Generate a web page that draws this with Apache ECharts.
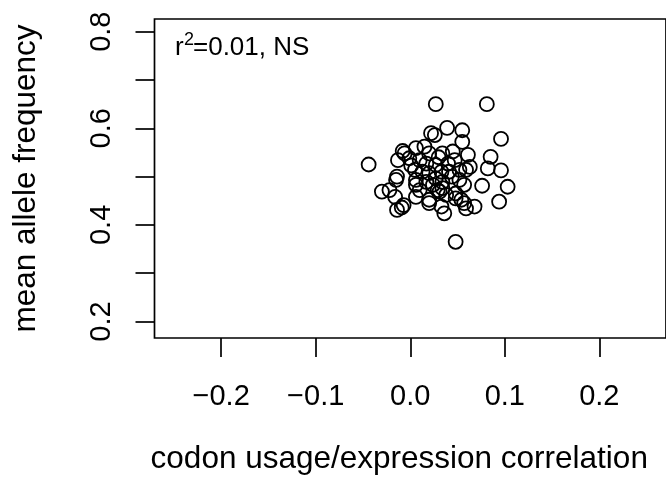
<!DOCTYPE html>
<html>
	<head>
		<meta charset="utf-8">
		<title>scatter</title>
	</head>
	<body style="margin:0">
		<div id="main" style="width: 666px;height:490px;"></div>
	</body>
	<script src="https://cdn.jsdelivr.net/npm/echarts@6/dist/echarts.min.js"></script>
	<script type="text/javascript">
		'use strict'

		// codon usage/expression correlation (x) vs mean allele frequency (y)
		var corr = [
			0.027, 0.081, 0.039, 0.055, 0.022, 0.026, 0.096, 0.055, -0.008, -0.044,
			0.061, 0.085, 0.082, 0.096, 0.076, 0.103, 0.094, -0.030, -0.015, -0.014,
			-0.016, -0.014, -0.009, -0.007, 0.048, 0.036, 0.068, 0.057, 0.054, 0.059,
			0.020, 0.006, 0.006, 0.031, 0.038, 0.048, -0.006, 0.006, 0.015, 0.020,
			0.034, 0.045, -0.013, -0.001, 0.010, 0.017, 0.027, 0.040, 0.047, 0.052,
			0.059, 0.005, 0.013, 0.020, 0.033, 0.041, -0.022, 0.006, 0.017, 0.027,
			0.034, 0.010, 0.024, 0.029, 0.034, 0.020, 0.033, 0.048, 0.052, 0.057,
			0.030, 0.001, 0.044, 0.063
		];
		var freq = [
			0.650, 0.650, 0.601, 0.596, 0.590, 0.586, 0.578, 0.572, 0.553, 0.525,
			0.545, 0.541, 0.517, 0.513, 0.481, 0.479, 0.448, 0.469, 0.493, 0.500,
			0.458, 0.431, 0.436, 0.441, 0.365, 0.424, 0.438, 0.445, 0.452, 0.434,
			0.445, 0.458, 0.483, 0.469, 0.462, 0.465, 0.548, 0.559, 0.562, 0.548,
			0.548, 0.552, 0.534, 0.538, 0.534, 0.527, 0.524, 0.527, 0.534, 0.514,
			0.514, 0.514, 0.510, 0.507, 0.510, 0.510, 0.472, 0.493, 0.489, 0.496,
			0.489, 0.472, 0.483, 0.472, 0.476, 0.452, 0.438, 0.455, 0.493, 0.483,
			0.540, 0.523, 0.500, 0.520
		];
		var xTicks = [-0.2, -0.1, 0.0, 0.1, 0.2];
		var yTicks = [0.2, 0.3, 0.4, 0.5, 0.6, 0.7, 0.8];
		var yLabels = [0.2, 0.4, 0.6, 0.8];

		var points = [];
		for (var i = 0; i < corr.length; i++) {
			points.push([corr[i], freq[i]]);
		}

		var font = 'Liberation Sans';
		var myChart = echarts.init(document.getElementById('main'));
		var option = {
			animation: false,
			backgroundColor: '#fff',
			grid: {
				left: 154.5,
				top: 19,
				bottom: 152,
				right: -3.6,
				show: true,
				borderColor: '#000',
				borderWidth: 1.7,
				backgroundColor: 'transparent'
			},
			xAxis: {
				type: 'value',
				min: -0.2705,
				max: 0.2705,
				name: 'codon usage/expression correlation',
				nameLocation: 'middle',
				nameGap: 105,
				nameTextStyle: { color: '#000', fontSize: 31.5, fontFamily: font, padding: [0, 22, 0, 0] },
				axisLine: { show: false, onZero: false },
				axisTick: {
					show: true,
					customValues: xTicks,
					length: 19,
					lineStyle: { color: '#000', width: 1.7 }
				},
				axisLabel: {
					customValues: xTicks,
					margin: 44,
					color: '#000',
					fontSize: 29,
					fontFamily: font,
					formatter: function (v) {
						return (v < 0 ? '\u2212' : '') + Math.abs(v).toFixed(1);
					}
				},
				splitLine: { show: false }
			},
			yAxis: {
				type: 'value',
				min: 0.1658,
				max: 0.8263,
				name: 'mean allele frequency',
				nameLocation: 'middle',
				nameGap: 112,
				nameRotate: 90,
				nameTextStyle: { color: '#000', fontSize: 31.5, fontFamily: font },
				axisLine: { show: false, onZero: false },
				axisTick: {
					show: true,
					customValues: yTicks,
					length: 19,
					lineStyle: { color: '#000', width: 1.7 }
				},
				axisLabel: {
					customValues: yLabels,
					rotate: 90,
					margin: 38,
					color: '#000',
					fontSize: 29,
					fontFamily: font,
					formatter: function (v) { return v.toFixed(1); }
				},
				splitLine: { show: false }
			},
			graphic: [
				{ type: 'text', x: 175, y: 48, style: { text: 'r', fill: '#000', font: '26px "Liberation Sans"', verticalAlign: 'middle' } },
				{ type: 'text', x: 184, y: 40, style: { text: '2', fill: '#000', font: '18px "Liberation Sans"', verticalAlign: 'middle' } },
				{ type: 'text', x: 193, y: 48, style: { text: '=0.01, NS', fill: '#000', font: '26px "Liberation Sans"', verticalAlign: 'middle' } }
			],
			series: [{
				type: 'scatter',
				data: points,
				symbol: 'circle',
				symbolSize: 14,
				itemStyle: { color: 'rgba(0,0,0,0)', borderColor: '#000', borderWidth: 1.8, opacity: 1 }
			}]
		};
		myChart.setOption(option);
	</script>
</html>
